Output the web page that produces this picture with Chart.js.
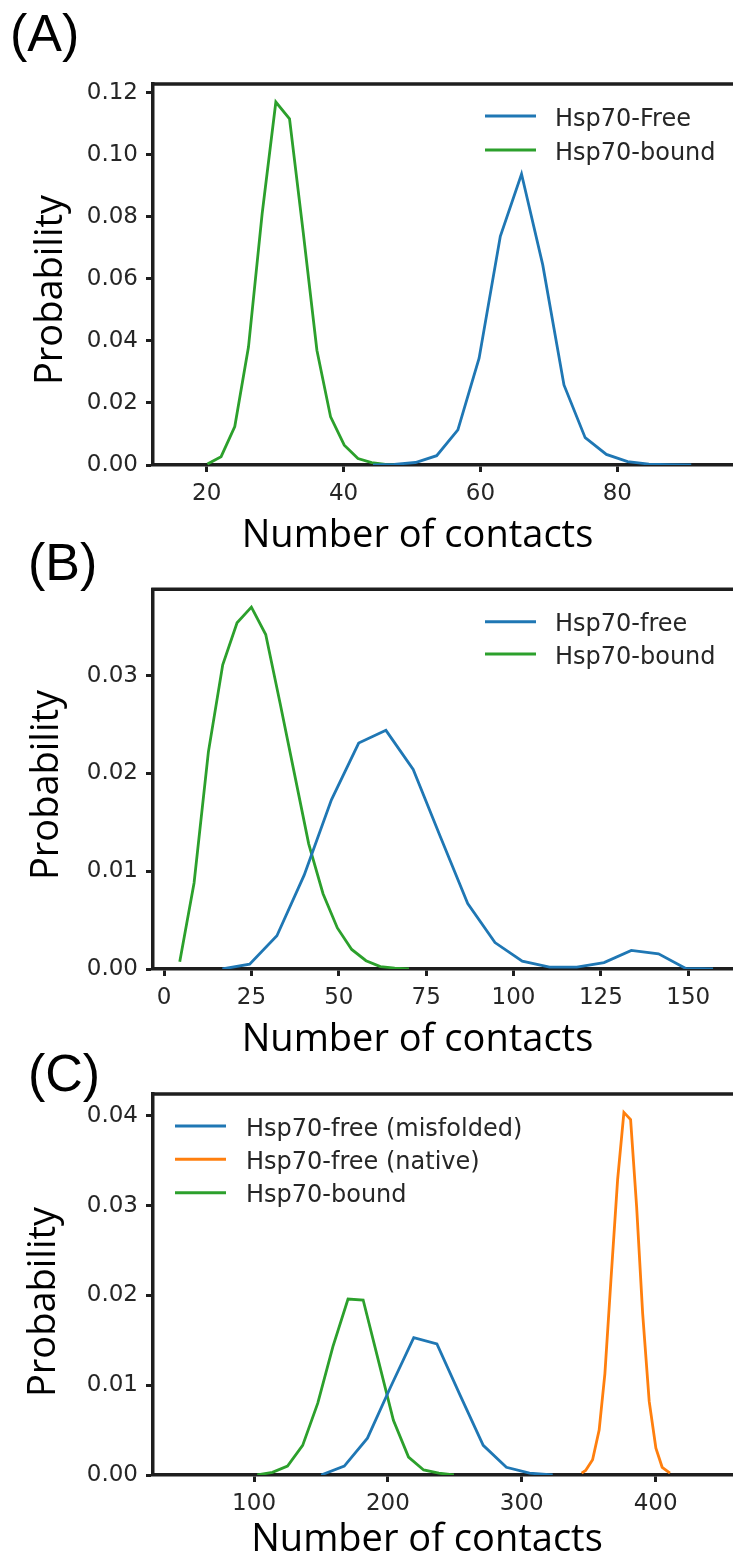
<!DOCTYPE html>
<html><head><meta charset="utf-8">
<script src="https://cdn.jsdelivr.net/npm/chart.js@4.4.1/dist/chart.umd.min.js"></script>
<style>
html,body{margin:0;padding:0;background:#fff;}
body{width:733px;height:1557px;position:relative;overflow:hidden;}
canvas{position:absolute;left:0;}
</style></head><body>
<canvas id="cA" width="733" height="560" style="top:0px"></canvas>
<canvas id="cB" width="733" height="540" style="top:520px"></canvas>
<canvas id="cC" width="733" height="547" style="top:1010px"></canvas>
<script>
// ---------------- DATA ----------------
// Panel A
const aFreeLabel = 'Hsp70-Free';
const aBoundLabel = 'Hsp70-bound';
const aFreeX = [44.3, 47.4, 50.5, 53.6, 56.7, 59.8, 62.9, 66.0, 69.1, 72.2, 75.3, 78.4, 81.5, 84.6, 87.7, 90.8];
const aFreeY = [0.0, 0.0002, 0.0008, 0.003, 0.0113, 0.0344, 0.0737, 0.0938, 0.0645, 0.0258, 0.0088, 0.0034, 0.0011, 0.0003, 0.0001, 0.0];
const aBoundX = [20.1, 22.1, 24.1, 26.1, 28.1, 30.1, 32.1, 34.1, 36.1, 38.1, 40.1, 42.1, 44.1, 46.1, 48.1];
const aBoundY = [0.0003, 0.0027, 0.0124, 0.038, 0.081, 0.117, 0.1116, 0.075, 0.037, 0.0155, 0.0064, 0.0021, 0.0008, 0.0002, 0.0001];
const aXTicks = [20, 40, 60, 80];
const aYTicks = [0.00, 0.02, 0.04, 0.06, 0.08, 0.10, 0.12];

// Panel B
const bFreeLabel = 'Hsp70-free';
const bBoundLabel = 'Hsp70-bound';
const bFreeX = [16.7, 24.5, 32.3, 40.1, 47.9, 55.7, 63.5, 71.3, 79.1, 86.9, 94.7, 102.5, 110.3, 118.1, 125.9, 133.7, 141.5, 149.3, 157.1];
const bFreeY = [0.0, 0.0005, 0.0034, 0.0096, 0.0173, 0.0231, 0.0244, 0.0204, 0.0135, 0.0067, 0.0027, 0.0008, 0.0002, 0.0002, 0.00065, 0.0019, 0.00155, 0.00005, 0.0];
const bBoundX = [4.5, 8.6, 12.7, 16.8, 20.9, 25.0, 29.1, 33.2, 37.3, 41.4, 45.5, 49.6, 53.7, 57.8, 61.9, 66.0, 70.1];
const bBoundY = [0.00075, 0.0088, 0.0222, 0.0311, 0.0354, 0.037, 0.0342, 0.0272, 0.020, 0.0128, 0.0077, 0.0042, 0.002, 0.00085, 0.00024, 0.0001, 0.0];
const bXTicks = [0, 25, 50, 75, 100, 125, 150];
const bYTicks = [0.00, 0.01, 0.02, 0.03];

// Panel C
const cMisLabel = 'Hsp70-free (misfolded)';
const cNatLabel = 'Hsp70-free (native)';
const cBoundLabel = 'Hsp70-bound';
const cMisX = [150.1, 167.4, 184.7, 202.0, 219.3, 236.6, 253.9, 271.2, 288.5, 305.8, 323.1];
const cMisY = [0.0, 0.001, 0.0041, 0.0098, 0.0153, 0.0146, 0.0089, 0.0033, 0.00086, 0.0002, 0.0];
const cNatX = [344.7, 347.7, 352.9, 357.8, 362.1, 366.6, 371.6, 376.3, 381.3, 385.8, 390.3, 395.2, 400.2, 404.9, 410.7];
const cNatY = [0.0002, 0.0005, 0.0017, 0.005, 0.0113, 0.0217, 0.0329, 0.0404, 0.0396, 0.0299, 0.018, 0.0082, 0.003, 0.00086, 0.0002];
const cBoundX = [102.4, 113.7, 125.0, 136.3, 147.6, 158.9, 170.2, 181.5, 192.8, 204.1, 215.4, 226.7, 238.0, 249.3];
const cBoundY = [0.0, 0.0003, 0.001, 0.0033, 0.008, 0.0143, 0.0196, 0.0195, 0.0128, 0.0061, 0.002, 0.00056, 0.0002, 0.0];
const cXTicks = [100, 200, 300, 400];
const cYTicks = [0.00, 0.01, 0.02, 0.03, 0.04];

const xTitle = 'Number of contacts';
const yTitle = 'Probability';

// ---------------- STYLE ----------------
const BLUE = '#1f77b4', ORANGE = '#ff7f0e', GREEN = '#2ca02c';
const INK = '#1e1e1e';
const TICK_FONT = {family: 'DejaVu Sans', size: 23};

function pts(xs, ys) { return xs.map((x, i) => ({x: x, y: ys[i]})); }
function ds(label, xs, ys, color) {
  return {label: label, data: pts(xs, ys), borderColor: color, backgroundColor: color,
          borderWidth: 2.8, pointRadius: 0, tension: 0, fill: false};
}

function build(id, canvasTop, canvasH, datasets, L) {
  const decor = {
    id: 'decor',
    afterDraw(chart) {
      const ctx = chart.ctx, ca = chart.chartArea;
      ctx.save();
      // top spine
      ctx.strokeStyle = INK; ctx.lineWidth = 3.5;
      ctx.beginPath(); ctx.moveTo(ca.left - 1.75, ca.top); ctx.lineTo(ca.right, ca.top); ctx.stroke();
      // legend
      ctx.font = '24px "DejaVu Sans"'; ctx.textBaseline = 'alphabetic'; ctx.textAlign = 'left';
      chart.data.datasets.forEach((d, i) => {
        const ry = L.legend.rows[i] - canvasTop;
        ctx.strokeStyle = d.borderColor; ctx.lineWidth = 3;
        ctx.beginPath(); ctx.moveTo(L.legend.x0, ry); ctx.lineTo(L.legend.x1, ry); ctx.stroke();
        ctx.fillStyle = '#262626';
        ctx.fillText(d.label, L.legend.tx, ry + 9.5);
      });
      // axis titles
      ctx.fillStyle = '#000';
      ctx.font = '38px "Open Sans"';
      ctx.textAlign = 'center'; ctx.textBaseline = 'alphabetic';
      ctx.fillText(xTitle, L.xlab.x, L.xlab.y - canvasTop);
      ctx.save();
      ctx.translate(L.ylab.x, L.ylab.y - canvasTop);
      ctx.rotate(-Math.PI / 2);
      ctx.fillText(yTitle, 0, 0);
      ctx.restore();
      // panel label
      ctx.font = '52px "Liberation Sans"';
      ctx.textAlign = 'left';
      ctx.fillText(L.label.text, L.label.x, L.label.y - canvasTop);
      ctx.restore();
    }
  };
  return new Chart(document.getElementById(id), {
    type: 'line',
    data: {datasets: datasets},
    options: {
      responsive: false, animation: false, devicePixelRatio: 1,
      layout: {autoPadding: false, padding: {left: 0, right: 0, top: L.top - canvasTop, bottom: 0}},
      plugins: {legend: {display: false}, tooltip: {enabled: false}},
      scales: {
        x: {
          type: 'linear', position: 'bottom', min: L.xmin, max: L.xmax,
          afterFit: (s) => { s.height = canvasH - (L.bottom - canvasTop); },
          afterBuildTicks: (s) => { s.ticks = L.xTicks.map(v => ({value: v})); },
          border: {display: true, color: INK, width: 3.5},
          grid: {display: true, drawOnChartArea: false, drawTicks: true, tickLength: 7, tickWidth: 3, tickColor: INK},
          ticks: {font: TICK_FONT, color: '#262626', padding: 8, autoSkip: false, maxRotation: 0,
                  callback: (v) => String(v)}
        },
        y: {
          type: 'linear', position: 'left', min: 0, max: L.ymax,
          afterFit: (s) => { s.width = 153; },
          afterBuildTicks: (s) => { s.ticks = L.yTicks.map(v => ({value: v})); },
          border: {display: true, color: INK, width: 3.5},
          grid: {display: true, drawOnChartArea: false, drawTicks: true, tickLength: 7, tickWidth: 3, tickColor: INK},
          ticks: {font: TICK_FONT, color: '#262626', padding: 8, autoSkip: false,
                  callback: (v) => Number(v).toFixed(2)}
        }
      }
    },
    plugins: [decor]
  });
}

build('cA', 0, 560,
  [ds(aFreeLabel, aFreeX, aFreeY, BLUE), ds(aBoundLabel, aBoundX, aBoundY, GREEN)],
  {top: 84, bottom: 465, xmin: 12.15, xmax: 96.9, ymax: 0.1228, xTicks: aXTicks, yTicks: aYTicks,
   legend: {x0: 485, x1: 536, tx: 555, rows: [116, 150]},
   label: {text: '(A)', x: 10, y: 51}, ylab: {x: 62, y: 290}, xlab: {x: 417.5, y: 547}});

build('cB', 520, 540,
  [ds(bFreeLabel, bFreeX, bFreeY, BLUE), ds(bBoundLabel, bBoundX, bBoundY, GREEN)],
  {top: 589.3, bottom: 969, xmin: -3.15, xmax: 162.8, ymax: 0.03882, xTicks: bXTicks, yTicks: bYTicks,
   legend: {x0: 485, x1: 536, tx: 555, rows: [621.7, 654]},
   label: {text: '(B)', x: 28, y: 580}, ylab: {x: 58, y: 785}, xlab: {x: 417.5, y: 1051}});

build('cC', 1010, 547,
  [ds(cMisLabel, cMisX, cMisY, BLUE), ds(cNatLabel, cNatX, cNatY, ORANGE), ds(cBoundLabel, cBoundX, cBoundY, GREEN)],
  {top: 1094, bottom: 1475, xmin: 24.5, xmax: 457.8, ymax: 0.04245, xTicks: cXTicks, yTicks: cYTicks,
   legend: {x0: 175, x1: 226, tx: 246, rows: [1126, 1159.3, 1192.7]},
   label: {text: '(C)', x: 28, y: 1091}, ylab: {x: 55, y: 1302}, xlab: {x: 427, y: 1551}});
</script>
</body></html>
